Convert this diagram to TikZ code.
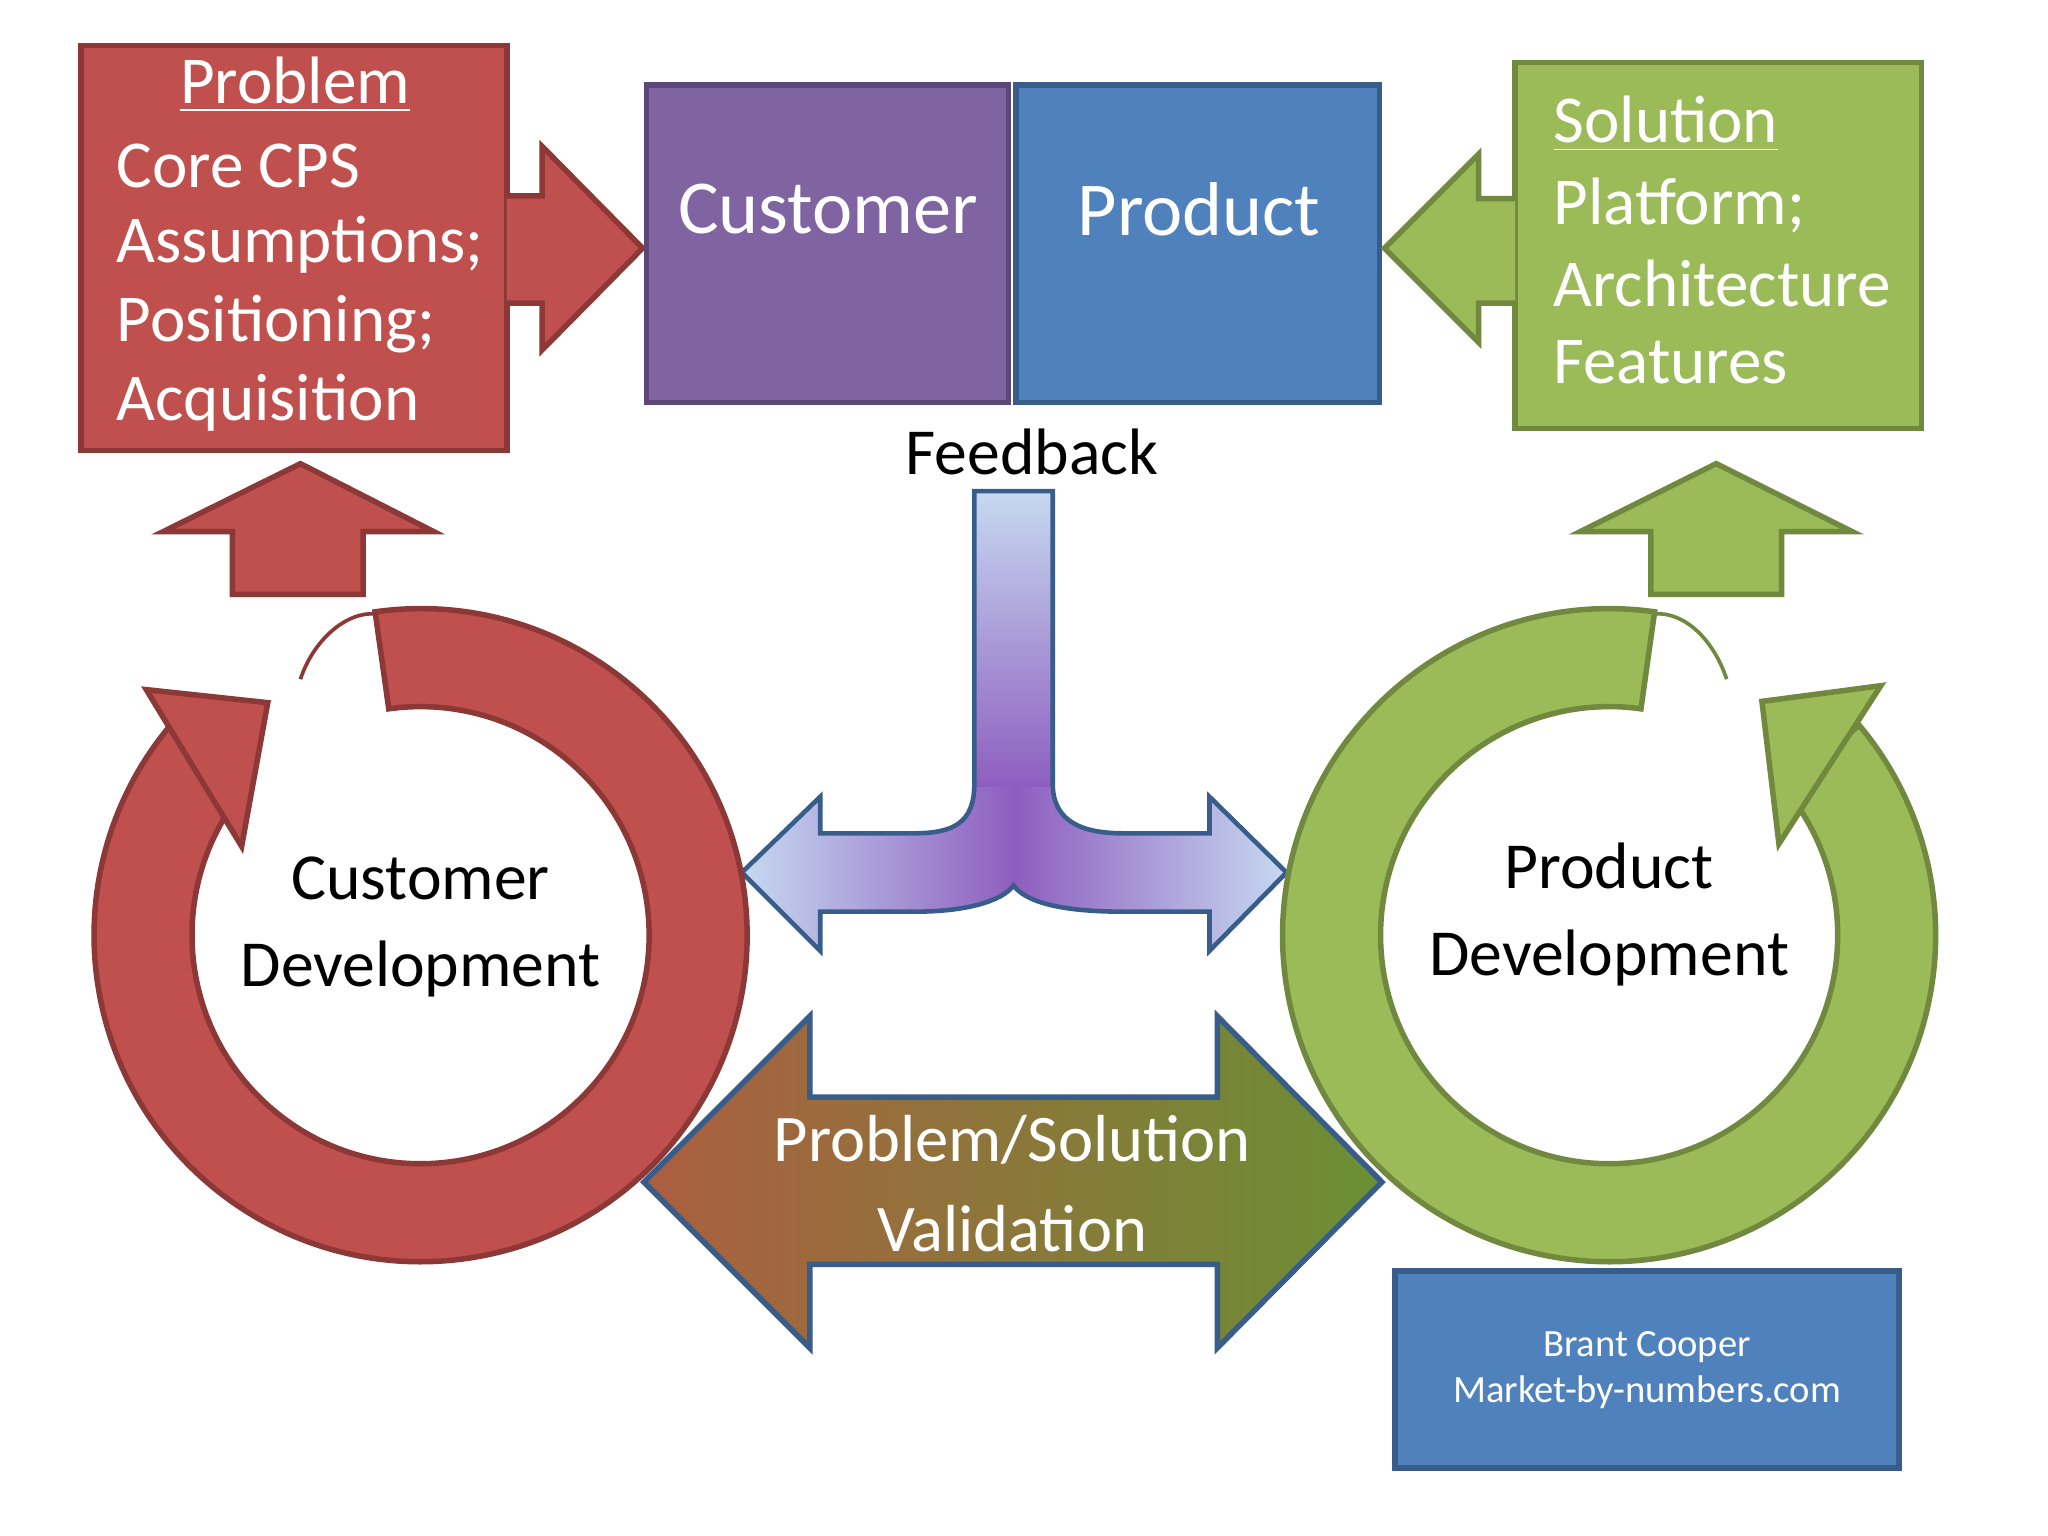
\documentclass[tikz,border=0pt]{standalone}
\usepackage{fontspec}
\setmainfont{Carlito}
\usetikzlibrary{shadings,calc}
\definecolor{red1}{HTML}{C0504D}\definecolor{red2}{HTML}{8C3836}
\definecolor{grn1}{HTML}{9BBB59}\definecolor{grn2}{HTML}{71893F}
\definecolor{pur1}{HTML}{8064A2}\definecolor{pur2}{HTML}{5C4776}
\definecolor{blu1}{HTML}{4F81BD}\definecolor{blu2}{HTML}{385D8A}
\definecolor{lb}{HTML}{C6D9F1}\definecolor{pp}{HTML}{8E5EBF}
\definecolor{vl}{HTML}{AC5E40}\definecolor{vr}{HTML}{6A9034}
\def\fbpath{(746,376) -- (806,376) -- (806,600) .. controls (806,630) and (830,638) .. (860,638)
 -- (926,638) -- (926,610) -- (985,668) -- (926,728) -- (926,698) -- (860,698)
 .. controls (810,698) and (785,690) .. (776,678) .. controls (767,690) and (740,698) .. (700,698)
 -- (628,698) -- (628,728) -- (568,668) -- (628,610) -- (628,638) -- (700,638)
 .. controls (730,638) and (746,630) .. (746,600) -- cycle}
\begin{document}
\begin{tikzpicture}[x=0.01cm,y=-0.01cm,line join=miter,
  rb/.style={fill=red1,draw=red2,line width=1.2pt},
  gb/.style={fill=grn1,draw=grn2,line width=1.2pt},
  big/.style={font=\fontsize{16.6}{20}\selectfont,text=white},
  mid/.style={font=\fontsize{14.6}{17}\selectfont,text=white,align=left,anchor=west},
  ctr/.style={font=\fontsize{14.3}{17}\selectfont,align=center}]
\useasboundingbox[fill=white] (0,0) rectangle (1568,1176);
% top boxes
\draw[rb] (62,35) rectangle (388,345);
\draw[rb] (388,150) -- (415,150) -- (415,112) -- (492,190) -- (415,268) -- (415,232) -- (388,232);
\node[mid,anchor=center] (p0) at (226,65) {\underline{Problem}};
\node[mid] (p1) at (77,127) {Core CPS};
\node[mid] (p2) at (77,187) {Assumptions;};
\node[mid] (p3) at (77,248) {Positioning;};
\node[mid] (p4) at (77,308) {Acquisition};
\draw[fill=pur1,draw=pur2,line width=1.2pt] (495,65) rectangle (772,308);
\draw[fill=blu1,draw=blu2,line width=1.2pt] (778,65) rectangle (1056,308);
\node[big] (cu) at (634,160) {Customer};
\node[big] (pr) at (918,160) {Product};
\draw[gb] (1160,48) rectangle (1471,328);
\draw[gb] (1160,152) -- (1132,152) -- (1132,118) -- (1060,190) -- (1132,262) -- (1132,232) -- (1160,232);
\node[mid] (s0) at (1177,95) {\underline{Solution}};
\node[mid] (s1) at (1177,157) {Platform;};
\node[mid] (s2) at (1177,217) {Architecture};
\node[mid] (s3) at (1177,277) {Features};
\node[ctr] (fb) at (790,346) {Feedback};
% feedback shape
\begin{scope}
\clip \fbpath;
\shade[left color=lb,right color=lb,middle color=pp] (568,376) rectangle (985,730);
\shade[top color=lb,bottom color=pp] (740,376) rectangle (812,602);
\end{scope}
\draw[draw=blu2,line width=1pt] \fbpath;
% red ring
\draw[rb] (322,716) ++(-98:250) arc[start angle=-98,end angle=220,radius=250]
  -- ($(322,716)+(220:175)$) arc[start angle=220,end angle=-98,radius=175] -- cycle;
\draw[rb] (112,528) -- (205,538) -- (185,648) -- cycle;
\draw[red2,line width=0.8pt] (230,520) .. controls (240,490) and (265,468) .. (288,470);
\draw[rb] (125,407) -- (230,355) -- (332,407) -- (278,407) -- (278,455) -- (178,455) -- (178,407) -- cycle;
\node[ctr] (cd) at (322,710) {Customer\\[2pt]Development};
% green ring
\draw[gb] (1232,716) ++(-82:250) arc[start angle=-82,end angle=-400,radius=250]
  -- ($(1232,716)+(-400:175)$) arc[start angle=-400,end angle=-82,radius=175] -- cycle;
\draw[gb] (1440,525) -- (1349,537) -- (1362,646) -- cycle;
\draw[grn2,line width=0.8pt] (1322,520) .. controls (1312,490) and (1290,468) .. (1266,470);
\draw[gb] (1210,407) -- (1314,355) -- (1418,407) -- (1364,407) -- (1364,455) -- (1264,455) -- (1264,407) -- cycle;
\node[ctr] (pd) at (1232,700) {Product\\[2pt]Development};
% validation arrow
\shade[left color=vl,right color=vr,draw=blu2,line width=1.2pt]
 (493,905) -- (620,778) -- (620,840) -- (932,840) -- (932,778) -- (1058,905) -- (932,1032)
 -- (932,968) -- (620,968) -- (620,1032) -- cycle;
\node[ctr,text=white,font=\fontsize{14.5}{17.5}\selectfont] (v) at (775,906) {Problem/Solution\\[2pt]Validation};
% credit
\draw[fill=blu1,draw=blu2,line width=1.2pt] (1068,973) rectangle (1454,1124);
\node[align=center,text=white,font=\fontsize{8.4}{10.2}\selectfont] (bc) at (1261,1049) {Brant Cooper\\Market-by-numbers.com};
\end{tikzpicture}
\end{document}
